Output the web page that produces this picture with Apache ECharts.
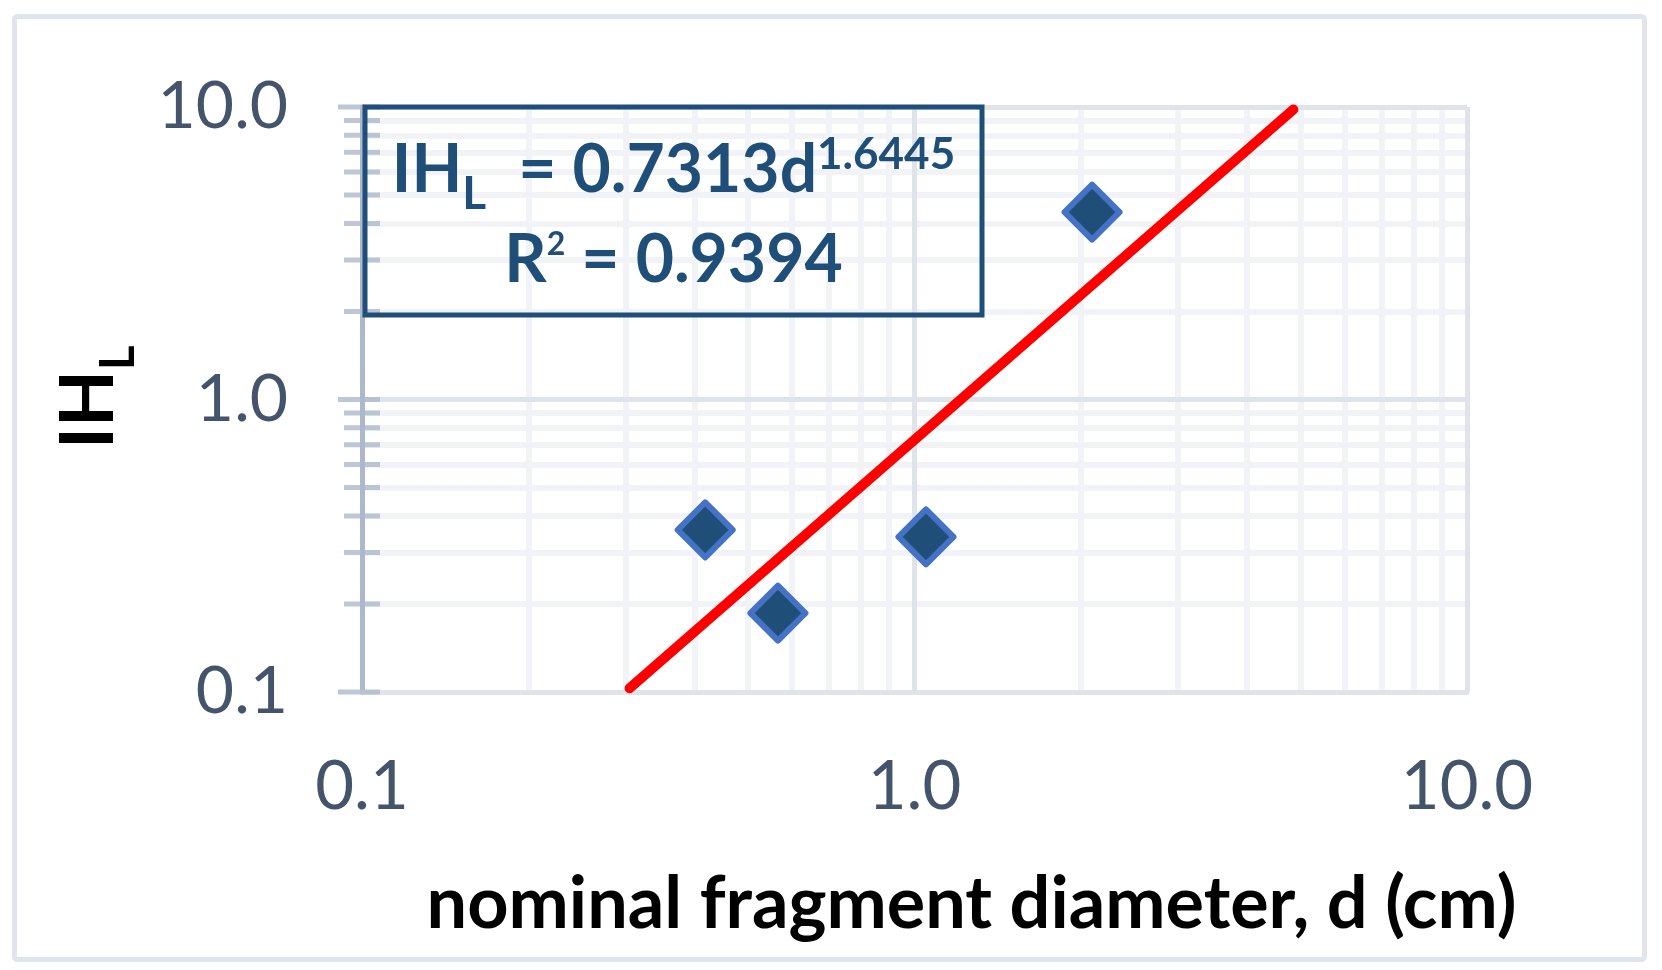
<!DOCTYPE html>
<html><head><meta charset="utf-8">
<script src="https://cdn.jsdelivr.net/npm/echarts@6/dist/echarts.min.js"></script>
<style>html,body{margin:0;padding:0;background:#fff}#c{width:1662px;height:970px}</style>
</head><body><div id="c"></div>
<script>
// ---- data ----
const diameters = [0.418, 0.566, 1.049, 2.096];   // d (cm)
const ihlValues = [0.358, 0.186, 0.339, 4.37];    // IH_L
const trendD = [0.305, 4.85];                     // drawn power-law trendline end points
const trendIHL = [0.103, 9.8];
const majorTicks = [0.1, 1, 10];
const minorTicks = [0.2, 0.3, 0.4, 0.5, 0.6, 0.7, 0.8, 0.9, 2, 3, 4, 5, 6, 7, 8, 9];
const xTitle = 'nominal fragment diameter, d (cm)';
const yTitle = ['IH', 'L'];
const equationLine1 = ['IH', 'L', '  = 0.7313d', '1.6445'];
const equationLine2 = ['R', '2', ' = 0.9394'];

const FONT = 'Lato';
const LABEL_COLOR = '#44546a';
const EQ_COLOR = '#1f4e79';
const MID = 0.3225; // distance from em-middle to alphabetic baseline, in em (Lato)

const ctx = document.createElement('canvas').getContext('2d');
function textWidth(t, size) { ctx.font = 'bold ' + size + 'px ' + FONT; return ctx.measureText(t).width; }

// lay out a run of text pieces on a common baseline (pieces: {t, size, dy})
function runElements(pieces, color, baseline, opts) {
  const widths = pieces.map(p => textWidth(p.t, p.size));
  const total = widths.reduce((a, b) => a + b, 0);
  let x = opts.align === 'center' ? opts.x - total / 2 : opts.x;
  return pieces.map((p, i) => {
    const el = {
      type: 'text', silent: true, z: 11,
      x: x, y: baseline + p.dy - MID * p.size,
      style: {text: p.t, fill: color, fontFamily: FONT, fontWeight: 'bold', fontSize: p.size,
              align: 'left', verticalAlign: 'middle'}
    };
    x += widths[i];
    return el;
  });
}

const chart = echarts.init(document.getElementById('c'), null, {renderer: 'canvas'});

const pts = diameters.map((d, i) => [d, ihlValues[i]]);
const trend = trendD.map((d, i) => [d, trendIHL[i]]);
const fmt = v => Number(v).toFixed(1);

const eq1 = runElements([
  {t: equationLine1[0], size: 66, dy: 0},
  {t: equationLine1[1], size: 46, dy: 17},
  {t: equationLine1[2], size: 66, dy: 0},
  {t: equationLine1[3], size: 44, dy: -23}
], EQ_COLOR, 192, {align: 'center', x: 673.5});
const eq2 = runElements([
  {t: equationLine2[0], size: 66, dy: 0},
  {t: equationLine2[1], size: 32, dy: -27},
  {t: equationLine2[2], size: 66, dy: 0}
], EQ_COLOR, 282, {align: 'center', x: 673.5});
const yTitleEls = runElements([
  {t: yTitle[0], size: 74, dy: 0},
  {t: yTitle[1], size: 47, dy: 21}
], '#000000', 0, {align: 'left', x: 0});

const option = {
  animation: false,
  backgroundColor: '#ffffff',
  grid: {left: 362, right: 195, top: 107, bottom: 278, containLabel: false},
  xAxis: {
    type: 'log', logBase: 10, min: 0.1, max: 10, z: 2,
    axisLine: {show: true, lineStyle: {color: '#dfe4eb', width: 5}},
    axisTick: {show: false},
    splitLine: {show: true, lineStyle: {color: '#dfe4eb', width: 5}},
    axisLabel: {formatter: fmt, color: LABEL_COLOR, fontFamily: FONT, fontSize: 67, margin: 62}
  },
  yAxis: {
    type: 'log', logBase: 10, min: 0.1, max: 10, z: 2,
    axisLine: {show: true, lineStyle: {color: '#adb9ca', width: 5}},
    axisTick: {show: false},
    splitLine: {show: true, lineStyle: {color: '#dfe4eb', width: 5}},
    axisLabel: {formatter: fmt, color: LABEL_COLOR, fontFamily: FONT, fontSize: 66, margin: 74}
  },
  series: [
    {
      type: 'line', data: [], silent: true, symbol: 'none',
      markLine: {
        silent: true, z: 1, animation: false, symbol: ['none', 'none'],
        label: {show: false},
        lineStyle: {color: '#f1f3f6', width: 6, type: 'solid'},
        emphasis: {disabled: true},
        data: minorTicks.map(v => ({xAxis: v})).concat(minorTicks.map(v => ({yAxis: v})))
      }
    },
    {
      type: 'scatter', silent: true, clip: false, z: 3,
      symbol: 'rect', symbolSize: [36, 5],
      itemStyle: {color: '#adb9ca'},
      data: minorTicks.map(v => [0.1, v])
    },
    {
      type: 'scatter', silent: true, clip: false, z: 3,
      symbol: 'rect', symbolSize: [42, 5], symbolOffset: [-3, 0],
      itemStyle: {color: '#adb9ca'},
      data: majorTicks.map(v => [0.1, v])
    },
    {
      type: 'line', silent: true, z: 4, symbol: 'none', clip: false,
      lineStyle: {color: '#ff0000', width: 10, cap: 'round'},
      data: trend
    },
    {
      type: 'scatter', z: 5, symbol: 'diamond', symbolSize: 55,
      itemStyle: {color: '#1f4e79', borderColor: '#4472c4', borderWidth: 6, borderJoin: 'round', opacity: 1},
      data: pts
    }
  ],
  graphic: [
    {type: 'rect', z: 0, silent: true,
     shape: {x: 14.5, y: 16.5, width: 1630, height: 943, r: 3},
     style: {fill: 'none', stroke: '#e0e5ec', lineWidth: 5}},
    {type: 'rect', z: 10, silent: true,
     shape: {x: 365, y: 107, width: 617, height: 208},
     style: {fill: 'none', stroke: EQ_COLOR, lineWidth: 5}}
  ].concat(eq1, eq2, [
    {type: 'text', z: 11, silent: true, x: 971.5, y: 905,
     style: {text: xTitle, align: 'center', verticalAlign: 'middle',
             fill: '#000000', fontFamily: FONT, fontWeight: 'bold', fontSize: 72}},
    {type: 'group', x: 113, y: 449, rotation: Math.PI / 2, silent: true, children: yTitleEls}
  ])
};
chart.setOption(option);
</script>
</body></html>
